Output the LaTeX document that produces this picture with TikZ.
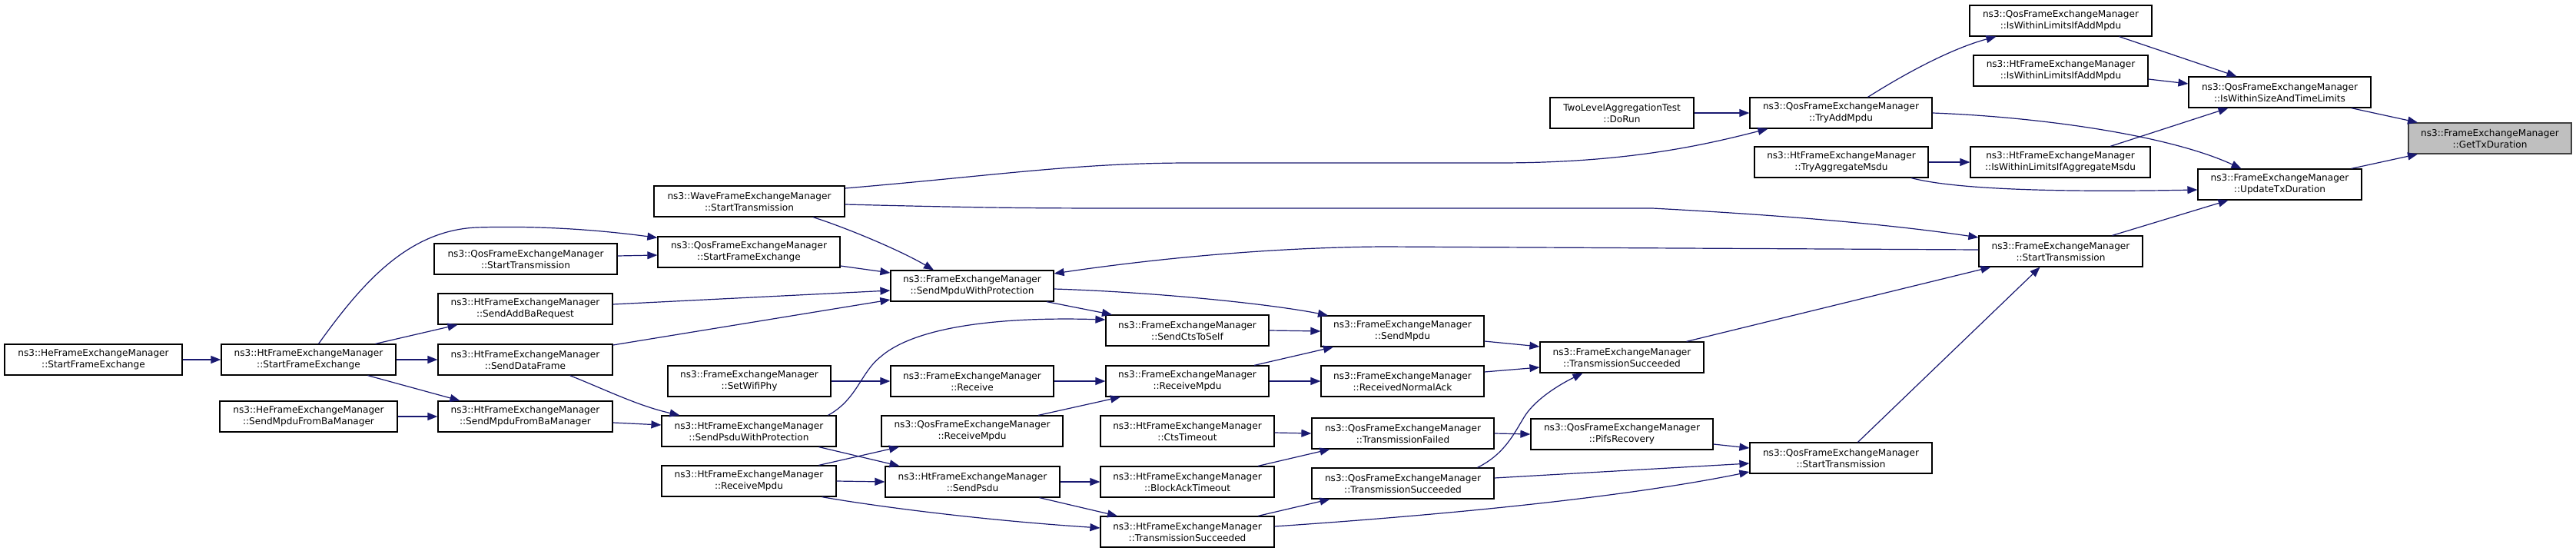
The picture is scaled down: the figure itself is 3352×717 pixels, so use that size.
\documentclass[tikz,border=0pt]{standalone}
\usepackage{fontspec}
\setmainfont{DejaVu Sans}
\usetikzlibrary{arrows.meta}
\definecolor{edgeblue}{HTML}{191970}
\definecolor{curfill}{HTML}{BFBFBF}
\definecolor{curdraw}{HTML}{404040}
\tikzset{
  fn/.style={draw=black, line width=1.2pt, fill=white, align=center,
    inner xsep=2pt, inner ysep=0pt, minimum height=40pt, minimum width=#1,
    font=\fontsize{12.1pt}{15pt}\selectfont},
  fn/.default=212pt,
  cur/.style={fn=#1, fill=curfill, draw=curdraw},
  cur/.default=212pt,
  call/.style={draw=edgeblue, line width=1.2pt, -{Triangle[length=13pt,width=10pt]}}
}
\begin{document}
\begin{tikzpicture}[x=1pt,y=-1pt]
\useasboundingbox (0,0) rectangle (3352,717);
\node[fn=231pt] (heSFE) at (121.5,468) {ns3::HeFrameExchangeManager\\::StartFrameExchange};
\node[fn=227pt] (htSFE) at (401.5,468) {ns3::HtFrameExchangeManager\\::StartFrameExchange};
\node[fn=231pt] (heSMFBM) at (401.5,542) {ns3::HeFrameExchangeManager\\::SendMpduFromBaManager};
\node[fn=238pt] (qosST) at (684,337) {ns3::QosFrameExchangeManager\\::StartTransmission};
\node[fn=227pt] (htAddBa) at (683.5,402) {ns3::HtFrameExchangeManager\\::SendAddBaRequest};
\node[fn=227pt] (htSDF) at (683.5,468) {ns3::HtFrameExchangeManager\\::SendDataFrame};
\node[fn=227pt] (htSMFBM) at (683.5,542) {ns3::HtFrameExchangeManager\\::SendMpduFromBaManager};
\node[fn=248pt] (waveST) at (975,262) {ns3::WaveFrameExchangeManager\\::StartTransmission};
\node[fn=237pt] (qosSFE) at (974.5,328) {ns3::QosFrameExchangeManager\\::StartFrameExchange};
\node[fn] (setPhy) at (975,496) {ns3::FrameExchangeManager\\::SetWifiPhy};
\node[fn=227pt] (htSPWP) at (974.5,561) {ns3::HtFrameExchangeManager\\::SendPsduWithProtection};
\node[fn=227pt] (htRxMpdu) at (974.5,626) {ns3::HtFrameExchangeManager\\::ReceiveMpdu};
\node[fn] (smwp) at (1265,372) {ns3::FrameExchangeManager\\::SendMpduWithProtection};
\node[fn] (fRx) at (1265,496) {ns3::FrameExchangeManager\\::Receive};
\node[fn=236pt] (qosRxMpdu) at (1265,561) {ns3::QosFrameExchangeManager\\::ReceiveMpdu};
\node[fn=227pt] (htSendPsdu) at (1265.5,627) {ns3::HtFrameExchangeManager\\::SendPsdu};
\node[fn] (cts2self) at (1545,430) {ns3::FrameExchangeManager\\::SendCtsToSelf};
\node[fn] (fRxMpdu) at (1545,496) {ns3::FrameExchangeManager\\::ReceiveMpdu};
\node[fn=226pt] (htCtsTo) at (1545,561) {ns3::HtFrameExchangeManager\\::CtsTimeout};
\node[fn=226pt] (htBaTo) at (1545,627) {ns3::HtFrameExchangeManager\\::BlockAckTimeout};
\node[fn=226pt] (htTS) at (1545,692) {ns3::HtFrameExchangeManager\\::TransmissionSucceeded};
\node[fn] (sendMpdu) at (1825,431) {ns3::FrameExchangeManager\\::SendMpdu};
\node[fn] (rxNAck) at (1825,496) {ns3::FrameExchangeManager\\::ReceivedNormalAck};
\node[fn=237pt] (qosTF) at (1825.5,564) {ns3::QosFrameExchangeManager\\::TransmissionFailed};
\node[fn=237pt] (qosTS) at (1825.5,629) {ns3::QosFrameExchangeManager\\::TransmissionSucceeded};
\node[fn=213pt] (fTS) at (2110.5,465) {ns3::FrameExchangeManager\\::TransmissionSucceeded};
\node[fn=237pt] (pifs) at (2110.5,565) {ns3::QosFrameExchangeManager\\::PifsRecovery};
\node[fn=187pt] (doRun) at (2110.5,147) {TwoLevelAggregationTest\\::DoRun};
\node[fn=237pt] (tryAdd) at (2395.5,147) {ns3::QosFrameExchangeManager\\::TryAddMpdu};
\node[fn=226pt] (tryAggr) at (2396,211) {ns3::HtFrameExchangeManager\\::TryAggregateMsdu};
\node[fn=237pt] (qosST2) at (2395.5,596) {ns3::QosFrameExchangeManager\\::StartTransmission};
\node[fn=237pt] (qosLimAdd) at (2681.5,27) {ns3::QosFrameExchangeManager\\::IsWithinLimitsIfAddMpdu};
\node[fn=227pt] (htLimAdd) at (2681.5,92) {ns3::HtFrameExchangeManager\\::IsWithinLimitsIfAddMpdu};
\node[fn=234pt] (htLimAggr) at (2681,211) {ns3::HtFrameExchangeManager\\::IsWithinLimitsIfAggregateMsdu};
\node[fn=213pt] (fST) at (2681.5,327) {ns3::FrameExchangeManager\\::StartTransmission};
\node[fn=237pt] (sizeTime) at (2966.5,120) {ns3::QosFrameExchangeManager\\::IsWithinSizeAndTimeLimits};
\node[fn=213pt] (updTx) at (2966.5,240) {ns3::FrameExchangeManager\\::UpdateTxDuration};
\node[cur] (getTx) at (3240,180) {ns3::FrameExchangeManager\\::GetTxDuration};
\draw[call] (heSFE.east) -- (htSFE.west);
\draw[call] ([xshift=13pt]htSFE.north) .. controls (470,370) and (530,300) .. (620,296) .. controls (720,293) and (800,302) .. ([yshift=-2pt]qosSFE.north west);
\draw[call] ([xshift=87pt]htSFE.north) -- ([xshift=-88pt]htAddBa.south);
\draw[call] (htSFE.east) -- (htSDF.west);
\draw[call] ([xshift=77pt]htSFE.south) -- ([xshift=-85pt]htSMFBM.north);
\draw[call] (heSMFBM.east) -- (htSMFBM.west);
\draw[call] ([yshift=4pt]qosST.east) -- ([yshift=-4pt]qosSFE.west);
\draw[call] ([yshift=-18pt]qosSFE.east) -- ([yshift=17pt]smwp.west);
\draw[call] ([yshift=6pt]htAddBa.east) -- ([yshift=-6pt]smwp.west);
\draw[call] ([yshift=19pt]htSDF.east) -- ([yshift=-18pt]smwp.west);
\draw[call] ([xshift=83pt]waveST.south) .. controls (1100,296) and (1170,325) .. ([xshift=-50pt]smwp.north);
\draw[call] ([yshift=17pt]waveST.east) .. controls (1300,228) and (1400,212) .. (1550,212) -- (1950,212) .. controls (2120,212) and (2220,188) .. ([xshift=-95pt]tryAdd.south);
\draw[call] ([yshift=-4pt]waveST.east) .. controls (1300,271) and (1350,271) .. (1500,271) -- (2150,271) .. controls (2320,280) and (2460,292) .. ([yshift=18pt]fST.west);
\draw[call] ([xshift=97pt]smwp.south) -- ([xshift=-98pt]cts2self.north);
\draw[call] ([yshift=-4pt]smwp.east) .. controls (1500,380) and (1650,395) .. ([xshift=-97pt]sendMpdu.north);
\draw[call] (cts2self.east) -- (sendMpdu.west);
\draw[call] ([xshift=103pt]htSPWP.north) .. controls (1115,520) and (1120,485) .. (1145,465) .. controls (1190,425) and (1300,412) .. ([yshift=14pt]cts2self.west);
\draw[call] (setPhy.east) -- (fRx.west);
\draw[call] (fRx.east) -- (fRxMpdu.west);
\draw[call] ([xshift=86pt]qosRxMpdu.north) -- ([xshift=-87pt]fRxMpdu.south);
\draw[call] ([xshift=87pt]fRxMpdu.north) -- ([xshift=-90pt]sendMpdu.south);
\draw[call] (fRxMpdu.east) -- (rxNAck.west);
\draw[call] ([yshift=-13pt]sendMpdu.east) -- ([yshift=14pt]fTS.west);
\draw[call] ([yshift=12pt]rxNAck.east) -- ([yshift=-13pt]fTS.west);
\draw[call] ([xshift=84pt]fTS.north) -- ([xshift=-91pt]fST.south);
\draw[call] ([xshift=22pt]qosST2.north) -- ([xshift=-27pt]fST.south);
\draw[call] ([yshift=-2pt]htCtsTo.east) -- (qosTF.west);
\draw[call] ([xshift=92pt]htBaTo.north) -- ([xshift=-95pt]qosTF.south);
\draw[call] (qosTF.east) -- (pifs.west);
\draw[call] ([xshift=97pt]qosTS.north) .. controls (1960,590) and (1972,560) .. (1985,540) .. controls (2000,518) and (2030,500) .. ([xshift=-51pt]fTS.south);
\draw[call] ([yshift=-13pt]pifs.east) -- ([yshift=13pt]qosST2.west);
\draw[call] ([yshift=7pt]qosTS.east) -- ([yshift=-7pt]qosST2.west);
\draw[call] ([yshift=7pt]htTS.east) .. controls (1850,672) and (2100,650) .. ([yshift=-18pt]qosST2.west);
\draw[call] ([xshift=92pt]htTS.north) -- ([xshift=-95pt]qosTS.south);
\draw[call] (htSendPsdu.east) -- (htBaTo.west);
\draw[call] ([xshift=87pt]htSendPsdu.south) -- ([xshift=-91pt]htTS.north);
\draw[call] (htRxMpdu.east) -- (htSendPsdu.west);
\draw[call] ([xshift=91pt]htRxMpdu.north) -- ([xshift=-95pt]qosRxMpdu.south);
\draw[call] ([xshift=91pt]htSPWP.south) -- ([xshift=-95pt]htSendPsdu.north);
\draw[call] ([xshift=95pt]htRxMpdu.south) .. controls (1110,654) and (1250,675) .. ([yshift=5pt]htTS.west);
\draw[call] ([xshift=58pt]htSDF.south) .. controls (790,508) and (830,528) .. ([xshift=-90pt]htSPWP.north);
\draw[call] ([yshift=-8pt]htSMFBM.east) -- ([yshift=8pt]htSPWP.west);
\draw[call] ([yshift=2pt]fST.west) -- (1800,321) .. controls (1650,322) and (1500,337) .. ([yshift=16pt]smwp.east);
\draw[call] (doRun.east) -- (tryAdd.west);
\draw[call] ([xshift=35pt]tryAdd.north) .. controls (2480,95) and (2540,63) .. ([xshift=-84pt]qosLimAdd.south);
\draw[call] (tryAdd.east) .. controls (2650,152) and (2820,175) .. ([xshift=-50pt]updTx.north);
\draw[call] (tryAggr.east) -- (htLimAggr.west);
\draw[call] ([xshift=91pt]tryAggr.south) .. controls (2550,248) and (2700,250) .. ([yshift=-7pt]updTx.west);
\draw[call] ([xshift=65pt]htLimAggr.north) -- ([xshift=-67pt]sizeTime.south);
\draw[call] ([xshift=76pt]qosLimAdd.south) -- ([xshift=-56pt]sizeTime.north);
\draw[call] ([yshift=-11pt]htLimAdd.east) -- ([yshift=11pt]sizeTime.west);
\draw[call] ([xshift=93pt]sizeTime.south) -- ([xshift=-94pt]getTx.north);
\draw[call] ([xshift=93pt]updTx.north) -- ([xshift=-94pt]getTx.south);
\draw[call] ([xshift=67pt]fST.north) -- ([xshift=-67pt]updTx.south);
\end{tikzpicture}
\end{document}
